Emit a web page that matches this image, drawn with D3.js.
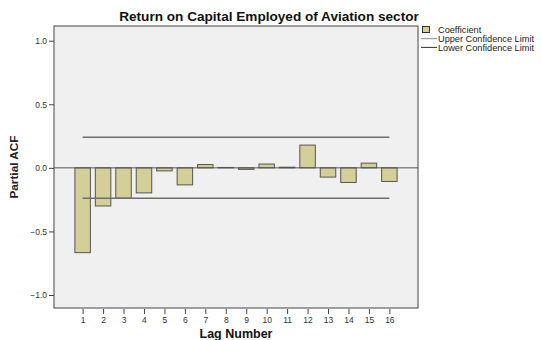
<!DOCTYPE html>
<html>
<head>
<meta charset="utf-8">
<script src="https://cdn.jsdelivr.net/npm/d3@7"></script>
<style>
  body { margin: 0; background: #fff; }
  text { font-family: "Liberation Sans", Arial, sans-serif; }
</style>
</head>
<body>
<div id="chart"></div>
<script>
// lag numbers and partial autocorrelation coefficients
var lags = [1, 2, 3, 4, 5, 6, 7, 8, 9, 10, 11, 12, 13, 14, 15, 16];
var coefficients = [-0.667, -0.30, -0.239, -0.197, -0.024, -0.134, 0.026, 0.003, -0.012, 0.03, 0.005, 0.179, -0.073, -0.115, 0.037, -0.107];
var upperLimit = 0.24;
var lowerLimit = -0.24;
var yTicks = [-1.0, -0.5, 0.0, 0.5, 1.0];
var legendLabels = ["Coefficient", "Upper Confidence Limit", "Lower Confidence Limit"];

var svgWidth = 541;
var svgHeight = 340;

// plot frame
var frame = { left: 54, right: 418, top: 26, bottom: 308 };

var svg = d3.select("#chart")
  .append("svg")
  .attr("width", svgWidth)
  .attr("height", svgHeight);

var xScale = d3.scaleLinear()
  .domain([-0.4, 17.4])
  .range([frame.left, frame.right]);

var yScale = d3.scaleLinear()
  .domain([-1, 1])
  .range([295, 40.7]);

var barWidth = 15.5;

// background
svg.append("rect")
  .attr("x", frame.left)
  .attr("y", frame.top)
  .attr("width", frame.right - frame.left)
  .attr("height", frame.bottom - frame.top)
  .attr("fill", "#f0f0f0");

// bars
svg.selectAll(".bar")
  .data(lags)
  .enter()
  .append("rect")
  .attr("class", "bar")
  .attr("x", (d, i) => xScale(d) - barWidth / 2)
  .attr("y", (d, i) => yScale(Math.max(0, coefficients[i])))
  .attr("width", barWidth)
  .attr("height", (d, i) => Math.abs(yScale(coefficients[i]) - yScale(0)))
  .attr("fill", "#d4cf98")
  .attr("stroke", "#333")
  .attr("stroke-opacity", 0.8)
  .attr("stroke-width", 1);

// zero reference line
svg.append("line")
  .attr("x1", frame.left)
  .attr("x2", frame.right)
  .attr("y1", yScale(0))
  .attr("y2", yScale(0))
  .attr("stroke", "#555")
  .attr("stroke-width", 1);

// confidence limits
[upperLimit, lowerLimit].forEach(function(v) {
  svg.append("line")
    .attr("x1", xScale(lags[0]))
    .attr("x2", xScale(lags[lags.length - 1]))
    .attr("y1", yScale(v))
    .attr("y2", yScale(v))
    .attr("stroke", "#6e6e6e")
    .attr("stroke-width", 1.5);
});

// frame border
svg.append("rect")
  .attr("x", frame.left)
  .attr("y", frame.top)
  .attr("width", frame.right - frame.left)
  .attr("height", frame.bottom - frame.top)
  .attr("fill", "none")
  .attr("stroke", "#444")
  .attr("stroke-width", 1);

// y axis
var leftAxis = d3.axisLeft(yScale)
  .tickValues(yTicks)
  .tickFormat(d3.format(".1f"))
  .tickSize(5)
  .tickPadding(2);

var yAxisG = svg.append("g")
  .attr("transform", `translate(${frame.left}, 0)`)
  .call(leftAxis);
yAxisG.select(".domain").remove();
yAxisG.selectAll("line").attr("stroke", "#444");
yAxisG.selectAll("text")
  .attr("font-size", 8.5)
  .attr("fill", "#333")
  .style("font-family", "'Liberation Sans', Arial, sans-serif");

// x axis
var bottomAxis = d3.axisBottom(xScale)
  .tickValues(lags)
  .tickFormat(d3.format("d"))
  .tickSize(5)
  .tickPadding(3);

var xAxisG = svg.append("g")
  .attr("transform", `translate(0, ${frame.bottom + 1})`)
  .call(bottomAxis);
xAxisG.select(".domain").remove();
xAxisG.selectAll("line").attr("stroke", "#444");
xAxisG.selectAll("text")
  .attr("font-size", 8.5)
  .attr("fill", "#333")
  .style("font-family", "'Liberation Sans', Arial, sans-serif");

// titles
svg.append("text")
  .attr("x", 269)
  .attr("y", 21)
  .attr("text-anchor", "middle")
  .attr("font-size", 13.6)
  .attr("font-weight", "bold")
  .attr("fill", "#111")
  .text("Return on Capital Employed of Aviation sector");

svg.append("text")
  .attr("x", (frame.left + frame.right) / 2)
  .attr("y", 338)
  .attr("text-anchor", "middle")
  .attr("font-size", 12.5)
  .attr("font-weight", "bold")
  .attr("fill", "#111")
  .text("Lag Number");

svg.append("text")
  .attr("transform", `translate(18, ${(frame.top + frame.bottom) / 2}) rotate(-90)`)
  .attr("text-anchor", "middle")
  .attr("font-size", 11.8)
  .attr("font-weight", "bold")
  .attr("fill", "#222")
  .text("Partial ACF");

// legend
var legendRowY = [30, 38.7, 47.4];
var legend = svg.append("g");
legend.append("rect")
  .attr("x", 422.5)
  .attr("y", legendRowY[0] - 3.5)
  .attr("width", 7)
  .attr("height", 6)
  .attr("fill", "#d4cf98")
  .attr("stroke", "#333");

var legendLineColors = [null, "#8a8a8a", "#333"];
legendLabels.forEach(function(label, i) {
  if (legendLineColors[i]) {
    legend.append("line")
      .attr("x1", 421)
      .attr("x2", 437)
      .attr("y1", legendRowY[i])
      .attr("y2", legendRowY[i])
      .attr("stroke", legendLineColors[i])
      .attr("stroke-width", 1);
  }
  legend.append("text")
    .attr("x", 438)
    .attr("y", legendRowY[i] + 3.2)
    .attr("font-size", 9.2)
    .attr("fill", "#222")
    .text(label);
});
</script>
</body>
</html>
